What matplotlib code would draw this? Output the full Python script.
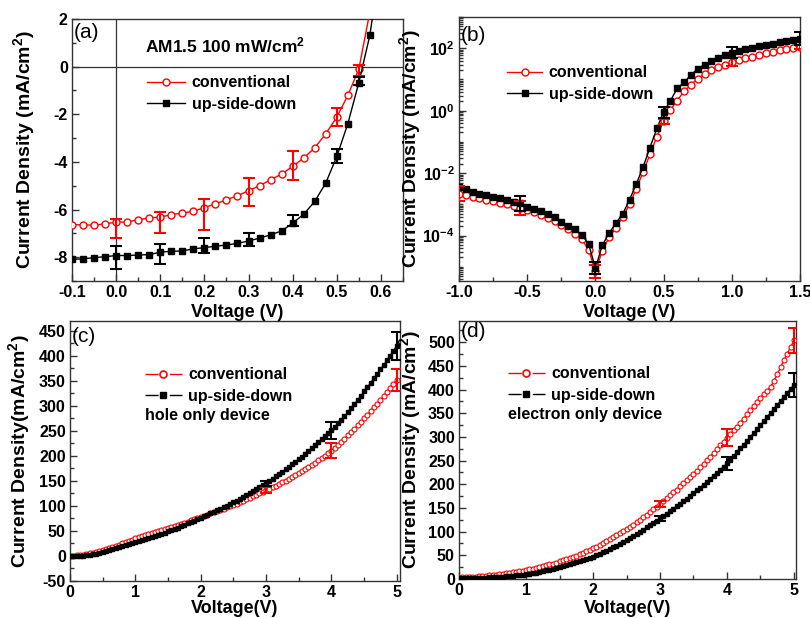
import numpy as np
import matplotlib
matplotlib.use('Agg')
import matplotlib.pyplot as plt
from matplotlib.ticker import (MultipleLocator, FormatStrFormatter, FixedLocator,
                               FixedFormatter, LogLocator, NullFormatter)
from matplotlib.lines import Line2D

plt.rcParams['font.family'] = ['Liberation Sans', 'DejaVu Sans']
plt.rcParams['font.weight'] = 'bold'
plt.rcParams['axes.unicode_minus'] = False
plt.rcParams['mathtext.fontset'] = 'custom'
plt.rcParams['mathtext.rm'] = 'Liberation Sans:bold'
plt.rcParams['mathtext.bf'] = 'Liberation Sans:bold'
plt.rcParams['mathtext.it'] = 'Liberation Sans:bold'
plt.rcParams['mathtext.default'] = 'rm'

RED = '#ff0000'
BLK = '#000000'
SPINE = '#333333'

# ---------------- (a) J-V under AM1.5 ----------------
a_v = [-0.1, -0.075, -0.05, -0.025, 0.0, 0.025, 0.05, 0.075, 0.1, 0.125, 0.15, 0.175,
       0.2, 0.225, 0.25, 0.275, 0.3, 0.325, 0.35, 0.375, 0.4, 0.425, 0.45, 0.475,
       0.5, 0.525, 0.55, 0.575, 0.6]
a_conv = [-6.64, -6.64, -6.66, -6.60, -6.53, -6.52, -6.43, -6.35, -6.32, -6.21, -6.15, -6.07,
          -5.92, -5.76, -5.59, -5.42, -5.21, -5.00, -4.75, -4.51, -4.19, -3.84, -3.41, -2.82,
          -2.12, -1.21, -0.10, 2.3, 4.6]
a_usd = [-8.09, -8.07, -8.02, -7.98, -7.93, -7.93, -7.91, -7.89, -7.79, -7.75, -7.74, -7.65,
         -7.60, -7.54, -7.49, -7.42, -7.32, -7.20, -7.06, -6.90, -6.57, -6.20, -5.66, -4.89,
         -3.77, -2.40, -0.67, 1.32, 4.5]
a_err_v = [0.0, 0.1, 0.2, 0.3, 0.4, 0.5, 0.55]
a_conv_lo = [0.65, 0.65, 0.95, 0.64, 0.56, 0.36, 0.28]
a_conv_hi = [0.15, 0.22, 0.35, 0.53, 0.66, 0.38, 0.18]
a_usd_lo = [0.58, 0.50, 0.24, 0.21, 0.14, 0.28, 0.09]
a_usd_hi = [0.42, 0.35, 0.39, 0.35, 0.35, 0.31, 0.25]

# ---------------- (b) dark J-V, log scale ----------------
b_v = np.linspace(-1.0, 1.5, 51)  # 0.05 V sweep
b_conv = [2.2e-3, 2.0e-3, 1.7e-3, 1.55e-3, 1.4e-3, 1.3e-3, 1.1e-3, 1.0e-3, 8.9e-4, 7.8e-4,
          6.6e-4, 5.6e-4, 4.6e-4, 3.7e-4, 3.0e-4, 2.2e-4, 1.6e-4, 1.1e-4, 7.6e-5, 3.5e-5,
          7.1e-6, 3.2e-5, 8.7e-5, 1.8e-4, 3.9e-4, 1.0e-3, 3.2e-3, 1.1e-2, 4.0e-2, 0.145,
          0.46, 1.07, 2.1, 4.2, 6.8, 10.5, 15, 19.5, 25, 30,
          36, 43, 49, 54, 62, 69, 76, 85, 95, 102, 107]
b_usd = [3.6e-3, 3.0e-3, 2.5e-3, 2.2e-3, 2.0e-3, 1.7e-3, 1.6e-3, 1.4e-3, 1.2e-3, 1.1e-3,
         8.5e-4, 7.1e-4, 5.9e-4, 4.9e-4, 3.9e-4, 2.8e-4, 2.0e-4, 1.6e-4, 1.05e-4, 5.4e-5,
         9.1e-6, 4.8e-5, 1.2e-4, 2.5e-4, 4.9e-4, 1.4e-3, 4.5e-3, 1.6e-2, 6.6e-2, 0.27,
         0.91, 2.1, 5.2, 8.1, 14, 22, 30, 38, 48, 59,
         71, 83, 95, 105, 115, 129, 141, 155, 166, 182, 200]
b_conv_err_v = [-1.0, -0.55, 0.0, 0.5, 1.0, 1.5]
b_conv_lo = [1.3e-3, 4.5e-4, 4.5e-6, 0.38, 26, 92]
b_conv_hi = [3.8e-3, 1.3e-3, 1.1e-5, 0.56, 48, 125]
b_usd_err_v = [-0.55, 0.0, 0.5, 1.0, 1.5]
b_usd_lo = [6.0e-4, 6.0e-6, 0.6, 48, 125]
b_usd_hi = [1.9e-3, 1.4e-5, 1.35, 107, 320]

# ---------------- (c) hole only device ----------------
c_v = np.linspace(0, 5, 101)  # 0.05 V sweep
c_conv = [0, 0.5, 1, 1.5, 2.5, 3.5, 5, 6.5, 8, 10,
          12, 14, 16, 18, 20, 22.5, 25, 27.5, 30, 32.5,
          35, 37, 39, 41, 43, 45, 47, 49, 51, 53,
          55, 57, 59.5, 62, 64, 66.5, 68.5, 71, 73, 75.5,
          78, 80, 82.5, 85, 87, 89.5, 92, 94.5, 97, 99.5,
          102, 104.5, 107, 110, 113, 116, 119, 122, 125, 128,
          131, 134, 137, 140, 143.5, 147, 150.5, 154, 157.5, 161,
          165, 169, 173, 177.5, 182, 186.5, 191, 195.5, 200.5, 205,
          210, 216, 222, 228, 234.5, 241, 247.5, 254, 261, 268,
          275, 282, 289.5, 297, 304.5, 312, 320, 328, 336, 344,
          352]
c_usd = [0, 0, 0, 0, 0.5, 1, 2, 3, 4.5, 6,
         8, 10, 12, 14, 16, 18, 20, 22, 24, 25.5,
         27, 29, 31, 33, 35, 37, 39, 41.5, 44, 46.5,
         49, 51.5, 54, 56.5, 59, 62, 65, 67.5, 70, 73,
         76, 79, 82, 85, 88, 91, 94, 97, 100, 103.5,
         107, 110.5, 114, 118, 122, 126, 130, 134, 138, 141.5,
         145, 150, 154, 159, 164, 168, 173, 178, 183, 188,
         193, 198, 204, 209, 215, 221, 227, 233, 239, 245,
         251, 258, 265, 272, 279, 287, 295, 303, 311, 320,
         329, 337, 346, 355, 364, 373, 382, 391, 400, 410,
         420]
c_err_v = [3, 4, 5]
c_conv_err = [6, 15, 22]
c_usd_err = [5, 17, 28]

# ---------------- (d) electron only device ----------------
d_v = np.linspace(0, 5, 101)
d_conv = [3, 3.3, 3.7, 4.1, 4.6, 5.1, 5.7, 6.3, 7, 7.7,
          8.5, 9.3, 10.2, 11.1, 12.1, 13.1, 14.2, 15.3, 16.5, 17.7,
          19, 20.5, 22, 23.6, 25.3, 27, 28.8, 30.7, 32.7, 34.8,
          37, 39.3, 41.7, 44.2, 46.8, 49.5, 52.3, 55.2, 58.2, 61.3,
          64.5, 68, 71.7, 75.5, 79.5, 83.6, 87.8, 92, 96.3, 100.7,
          105, 110, 115, 120, 125, 130.5, 136, 141.5, 147, 153,
          159, 165, 171, 177, 183, 189, 195.5, 202, 208.5, 215,
          222, 229, 236, 243.5, 251, 258.5, 266, 274, 282, 290,
          298, 306, 314, 322, 330.5, 339, 347.5, 356, 365, 374,
          383, 391, 398, 405, 418, 432, 447, 462, 476, 490,
          504]
d_usd = [2, 2, 2, 2, 2.1, 2.2, 2.4, 2.6, 2.9, 3.2,
         3.6, 4, 4.5, 5, 5.6, 6.2, 6.9, 7.6, 8.4, 9.2,
         10, 11.2, 12.4, 13.7, 15.1, 16.6, 18.2, 19.9, 21.8, 23.8,
         26, 28, 30, 32, 34.2, 36.4, 38.6, 40.8, 43, 45,
         47, 50, 53.2, 56.5, 60, 63.5, 67, 70.6, 74.3, 78,
         82, 86.3, 90.7, 95.2, 99.8, 104.4, 109, 113.7, 118.5, 123.2,
         128, 133, 138, 143, 148.5, 154, 159, 164.5, 170, 175.5,
         181, 187, 193, 199, 205, 211.5, 218, 224.5, 231, 237.5,
         244, 252, 260, 268, 276, 284, 292, 300, 308.5, 317,
         325, 333.5, 342, 350.5, 359, 367.5, 376, 384.5, 393, 401.5,
         410]
d_err_v = [3, 4, 5]
d_conv_err = [6, 18, 26]
d_usd_err = [6, 14, 25]

labels = ['conventional', 'up-side-down']

TICK_FS = 11.5
XLAB_FS = 13
YLAB_FS = 14


def pick(xs, ys, at):
    xs = np.asarray(xs, dtype=float)
    ys = np.asarray(ys, dtype=float)
    return np.array([ys[np.argmin(np.abs(xs - a))] for a in at])


def style(ax):
    ax.tick_params(which='both', direction='in', top=False, right=False,
                   labelsize=TICK_FS, width=1, color=SPINE, pad=3)
    ax.tick_params(which='major', length=5)
    ax.tick_params(which='minor', length=3)
    for s in ax.spines.values():
        s.set_linewidth(1.0)
        s.set_color(SPINE)


def errs(ax, xs, ys, at, lo, hi, col):
    ax.errorbar(at, pick(xs, ys, at), yerr=[lo, hi], fmt='none', ecolor=col,
                elinewidth=1.5, capsize=4, capthick=1.5, zorder=4)


fig = plt.figure(figsize=(8.1, 6.18), dpi=100)
ax_a = fig.add_axes([0.0889, 0.5453, 0.4086, 0.4240])
ax_b = fig.add_axes([0.5667, 0.5453, 0.4210, 0.4272])
ax_c = fig.add_axes([0.0864, 0.0599, 0.4074, 0.4207])
ax_d = fig.add_axes([0.5667, 0.0631, 0.4160, 0.4175])
# lower panels must not hide the upper x labels
ax_c.patch.set_alpha(0)
ax_d.patch.set_alpha(0)

leg_prop = {'size': 11.5, 'weight': 'bold'}

# (a)
ax = ax_a
ax.axhline(0, color=SPINE, lw=0.9, zorder=1)
ax.axvline(0, color=SPINE, lw=0.9, zorder=1)
ax.plot(a_v, a_conv, '-o', color=RED, mfc='white', mec=RED, ms=5, mew=1, lw=1,
        label=labels[0], zorder=3)
ax.plot(a_v, a_usd, '-s', color=BLK, ms=4.5, lw=1, label=labels[1], zorder=3)
errs(ax, a_v, a_conv, a_err_v, a_conv_lo, a_conv_hi, RED)
errs(ax, a_v, a_usd, a_err_v, a_usd_lo, a_usd_hi, BLK)
ax.set_xlim(-0.1, 0.65)
ax.set_ylim(-9, 2)
ax.xaxis.set_major_locator(MultipleLocator(0.1))
ax.xaxis.set_minor_locator(MultipleLocator(0.05))
ax.xaxis.set_major_formatter(FormatStrFormatter('%.1f'))
ax.yaxis.set_major_locator(MultipleLocator(2))
ax.yaxis.set_minor_locator(MultipleLocator(1))
style(ax)
ax.set_xlabel('Voltage (V)', fontsize=XLAB_FS, fontweight='bold')
ax.set_ylabel('Current Density (mA/cm$^2$)', fontsize=YLAB_FS, fontweight='bold')
ax.xaxis.set_label_coords(0.5, -0.088)
ax.yaxis.set_label_coords(-0.106, 0.5)
ax.text(0.005, 0.947, '(a)', transform=ax.transAxes, fontsize=15, fontweight='normal',
        va='center', ha='left')
ax.text(0.22, 0.90, 'AM1.5 100 mW/cm$^2$', transform=ax.transAxes, fontsize=12.5,
        fontweight='bold', va='center', ha='left')
ax.legend(loc='upper left', bbox_to_anchor=(0.227, 0.785), frameon=False, borderpad=0,
          borderaxespad=0, handlelength=2.4, handletextpad=0.4, labelspacing=0.4,
          prop=leg_prop, numpoints=1)

# (b)
ax = ax_b
ax.set_yscale('log')
ax.plot(b_v, b_conv, '-o', color=RED, mfc='white', mec=RED, ms=5, mew=1, lw=1,
        label=labels[0], zorder=3)
ax.plot(b_v, b_usd, '-s', color=BLK, ms=4.5, lw=1, label=labels[1], zorder=3)
ax.errorbar(b_conv_err_v, pick(b_v, b_conv, b_conv_err_v),
            yerr=[pick(b_v, b_conv, b_conv_err_v) - np.array(b_conv_lo),
                  np.array(b_conv_hi) - pick(b_v, b_conv, b_conv_err_v)],
            fmt='none', ecolor=RED, elinewidth=1.5, capsize=4, capthick=1.5, zorder=4)
ax.errorbar(b_usd_err_v, pick(b_v, b_usd, b_usd_err_v),
            yerr=[pick(b_v, b_usd, b_usd_err_v) - np.array(b_usd_lo),
                  np.array(b_usd_hi) - pick(b_v, b_usd, b_usd_err_v)],
            fmt='none', ecolor=BLK, elinewidth=1.5, capsize=4, capthick=1.5, zorder=4)
ax.set_xlim(-1.0, 1.5)
ax.set_ylim(3.5e-6, 1e3)
ax.xaxis.set_major_locator(MultipleLocator(0.5))
ax.xaxis.set_minor_locator(MultipleLocator(0.25))
ax.xaxis.set_major_formatter(FormatStrFormatter('%.1f'))
ax.yaxis.set_major_locator(FixedLocator([1e-4, 1e-2, 1e0, 1e2]))
ax.yaxis.set_major_formatter(FixedFormatter(['$10^{-4}$', '$10^{-2}$', '$10^{0}$', '$10^{2}$']))
ax.yaxis.set_minor_locator(LogLocator(base=10, subs=np.arange(1, 10), numticks=100))
ax.yaxis.set_minor_formatter(NullFormatter())
style(ax)
ax.set_xlabel('Voltage (V)', fontsize=XLAB_FS, fontweight='bold')
ax.set_ylabel('Current Density (mA/cm$^2$)', fontsize=YLAB_FS, fontweight='bold')
ax.xaxis.set_label_coords(0.5, -0.088)
ax.yaxis.set_label_coords(-0.106, 0.5)
ax.text(0.005, 0.93, '(b)', transform=ax.transAxes, fontsize=15, fontweight='normal',
        va='center', ha='left')
ax.legend(loc='upper left', bbox_to_anchor=(0.141, 0.817), frameon=False, borderpad=0,
          borderaxespad=0, handlelength=2.2, handletextpad=0.4, labelspacing=0.4,
          prop=leg_prop, numpoints=1)


def dashed_handles():
    return [Line2D([], [], color=RED, marker='o', ms=5, mfc='white', mec=RED, mew=1.2,
                   lw=1, dashes=(9.5, 8)),
            Line2D([], [], color=BLK, marker='s', ms=4.5, lw=1, dashes=(9.5, 8))]


# (c) and (d)
for ax, xs, conv, usd, ev, ce, ue, note, tag, lab, ylim, pos in [
        (ax_c, c_v, c_conv, c_usd, c_err_v, c_conv_err, c_usd_err, 'hole only device', '(c)',
         'Current Density(mA/cm$^2$)', (-50, 470), (0.227, 0.822, 0.635, 0.94, -0.115, -0.072, 5.05)),
        (ax_d, d_v, d_conv, d_usd, d_err_v, d_conv_err, d_usd_err, 'electron only device', '(d)',
         'Current Density (mA/cm$^2$)', (0, 545), (0.145, 0.825, 0.636, 0.958, -0.107, -0.08, 5.03))]:
    ax.plot(xs, conv, '-o', color=RED, mfc='white', mec=RED, ms=3.6, mew=0.8, lw=1, zorder=3)
    ax.plot(xs, usd, '-s', color=BLK, ms=3.4, lw=1, zorder=3)
    errs(ax, xs, conv, ev, ce, ce, RED)
    errs(ax, xs, usd, ev, ue, ue, BLK)
    ax.set_xlim(0, pos[6])
    ax.set_ylim(*ylim)
    ax.xaxis.set_major_locator(MultipleLocator(1))
    ax.xaxis.set_minor_locator(MultipleLocator(0.5))
    ax.yaxis.set_major_locator(MultipleLocator(50))
    ax.yaxis.set_minor_locator(MultipleLocator(25))
    style(ax)
    ax.set_xlabel('Voltage(V)', fontsize=XLAB_FS, fontweight='bold')
    ax.set_ylabel(lab, fontsize=YLAB_FS, fontweight='bold')
    ax.xaxis.set_label_coords(0.5, pos[5])
    ax.yaxis.set_label_coords(pos[4], 0.5)
    ax.text(0.005, pos[3], tag, transform=ax.transAxes, fontsize=15, fontweight='normal',
            va='center', ha='left')
    ax.legend(dashed_handles(), labels, loc='upper left', bbox_to_anchor=(pos[0], pos[1]),
              frameon=False, borderpad=0, borderaxespad=0, handlelength=2.3,
              handletextpad=0.4, labelspacing=0.4, prop=leg_prop, numpoints=1)
    ax.text(pos[0], pos[2], note, transform=ax.transAxes, fontsize=11.5, fontweight='bold',
            va='center', ha='left')

fig.savefig('out.png', dpi=100)
